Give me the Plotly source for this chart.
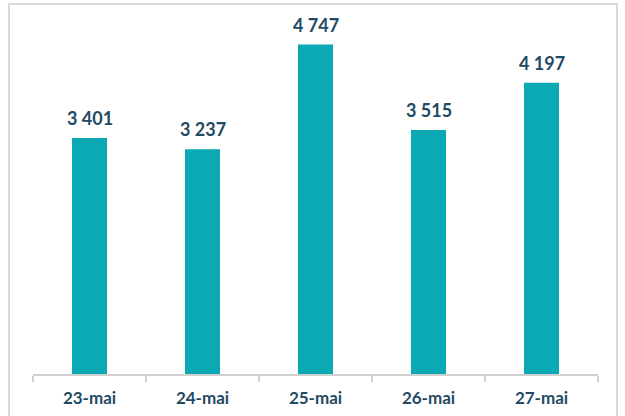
import plotly.graph_objects as go

categories = ["23-mai", "24-mai", "25-mai", "26-mai", "27-mai"]
values = [3401, 3237, 4747, 3515, 4197]
labels = ["3 401", "3 237", "4 747", "3 515", "4 197"]

bar_color = "#0AA9B3"
text_color = "#1F4A63"

fig = go.Figure()
fig.add_trace(go.Bar(x=categories, y=values, marker=dict(color=bar_color, line=dict(width=0)),
                     hoverinfo="skip"))

for c, v, t in zip(categories, values, labels):
    fig.add_annotation(x=c, y=v, text="<b>%s</b>" % t, showarrow=False,
                       yanchor="bottom", yshift=7,
                       font=dict(family="Lato", size=18, color=text_color))

fig.add_shape(type="rect", xref="paper", yref="paper",
              x0=-0.0425, x1=1.0336, y0=-0.2, y1=1.0663,
              line=dict(color="#D9D9D9", width=2), layer="above")

fig.update_layout(
    width=625, height=416,
    margin=dict(l=33, r=27, t=27, b=42),
    paper_bgcolor="white", plot_bgcolor="white",
    bargap=0.69,
    showlegend=False,
    xaxis=dict(type="category", showline=True, linecolor="#D0D0D0", linewidth=1.5,
               ticks="outside", tickson="boundaries", ticklen=6, tickcolor="#D0D0D0",
               tickwidth=1.5, showgrid=False, zeroline=False, ticklabelstandoff=8,
               automargin=False,
               tickfont=dict(family="Lato", size=17, color=text_color, weight="bold")),
    yaxis=dict(range=[0, 5000], visible=False, showgrid=False, zeroline=False),
)

fig.write_html("out.html", config={"displayModeBar": False},
               post_script="document.body.style.margin='0';document.body.style.overflow='hidden';")
